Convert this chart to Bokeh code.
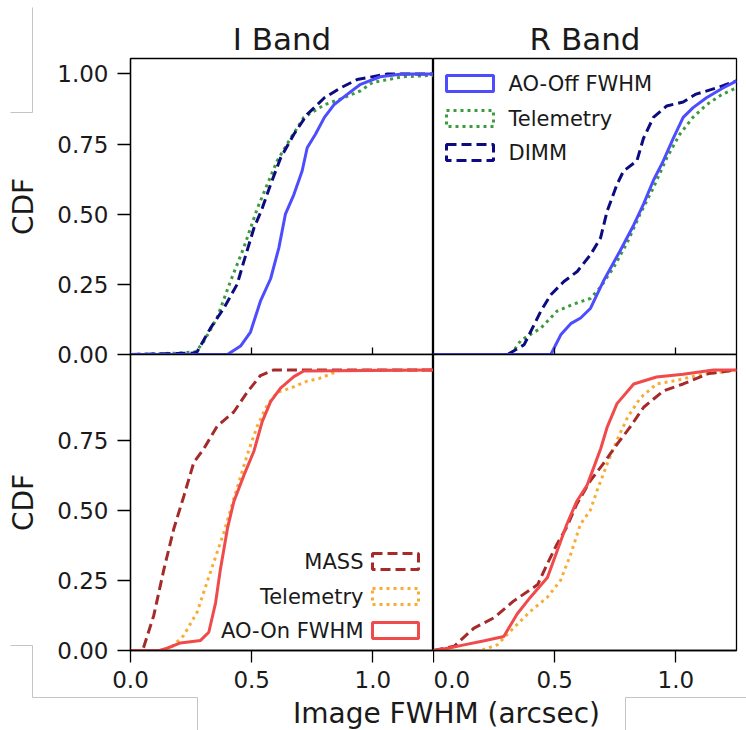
from bokeh.plotting import figure
from bokeh.layouts import column, row
from bokeh.models import Range1d, FixedTicker, NumeralTickFormatter, Label
from bokeh.embed import file_html
from bokeh.resources import INLINE

# ---------------- data ----------------
x_ticks_bottom = [0.0, 0.5, 1.0]
y_ticks_top = [0.0, 0.25, 0.5, 0.75, 1.0]
y_ticks_bottom = [0.0, 0.25, 0.5, 0.75]

# I band, AO-off panel
i_aooff_x = [0.00, 0.40, 0.454, 0.495, 0.536, 0.578, 0.612, 0.639, 0.674, 0.708, 0.729, 0.763, 0.80, 0.839, 0.894, 0.949, 1.03, 1.12, 1.25]
i_aooff_y = [0.00, 0.00, 0.03, 0.08, 0.19, 0.27, 0.38, 0.50, 0.57, 0.654, 0.737, 0.785, 0.845, 0.89, 0.927, 0.963, 0.99, 1.00, 1.00]
i_tel_off_x = [0.00, 0.19, 0.27, 0.302, 0.357, 0.412, 0.467, 0.523, 0.564, 0.605, 0.66, 0.715, 0.80, 0.88, 0.949, 1.00, 1.125, 1.25]
i_tel_off_y = [0.00, 0.005, 0.01, 0.046, 0.13, 0.26, 0.38, 0.52, 0.606, 0.69, 0.77, 0.845, 0.89, 0.915, 0.94, 0.97, 0.99, 0.995]
i_dimm_x = [0.00, 0.15, 0.26, 0.275, 0.33, 0.385, 0.44, 0.467, 0.509, 0.543, 0.578, 0.619, 0.674, 0.729, 0.80, 0.866, 0.935, 1.06, 1.25]
i_dimm_y = [0.00, 0.003, 0.005, 0.01, 0.094, 0.165, 0.25, 0.33, 0.45, 0.52, 0.606, 0.70, 0.785, 0.856, 0.915, 0.95, 0.98, 1.00, 1.00]

# R band, AO-off panel
r_aooff_x = [0.00, 0.484, 0.525, 0.566, 0.607, 0.648, 0.70, 0.77, 0.825, 0.866, 0.907, 0.948, 0.989, 1.03, 1.071, 1.126, 1.194, 1.25]
r_aooff_y = [0.00, 0.00, 0.07, 0.11, 0.13, 0.165, 0.26, 0.37, 0.46, 0.535, 0.62, 0.69, 0.77, 0.845, 0.88, 0.915, 0.95, 0.975]
r_tel_off_x = [0.00, 0.32, 0.36, 0.443, 0.51, 0.579, 0.648, 0.689, 0.743, 0.80, 0.852, 0.907, 0.962, 1.016, 1.07, 1.126, 1.19, 1.25]
r_tel_off_y = [0.00, 0.00, 0.05, 0.094, 0.155, 0.18, 0.20, 0.24, 0.31, 0.40, 0.50, 0.594, 0.70, 0.785, 0.845, 0.89, 0.927, 0.95]
r_dimm_x = [0.00, 0.306, 0.374, 0.443, 0.484, 0.538, 0.593, 0.648, 0.689, 0.716, 0.757, 0.784, 0.839, 0.866, 0.907, 0.962, 1.03, 1.08, 1.167, 1.25]
r_dimm_y = [0.00, 0.00, 0.035, 0.155, 0.213, 0.26, 0.296, 0.356, 0.415, 0.51, 0.606, 0.654, 0.69, 0.77, 0.845, 0.886, 0.90, 0.927, 0.95, 0.975]

# I band, AO-on panel
i_aoon_x = [0.00, 0.12, 0.151, 0.206, 0.289, 0.323, 0.351, 0.371, 0.40, 0.426, 0.468, 0.509, 0.543, 0.578, 0.619, 0.674, 0.715, 1.25]
i_aoon_y = [0.00, 0.00, 0.008, 0.027, 0.036, 0.065, 0.17, 0.29, 0.435, 0.53, 0.625, 0.71, 0.815, 0.887, 0.935, 0.976, 0.996, 1.00]
i_tel_on_x = [0.00, 0.12, 0.165, 0.22, 0.275, 0.33, 0.385, 0.426, 0.481, 0.523, 0.564, 0.605, 0.66, 0.729, 0.78, 0.862, 1.25]
i_tel_on_y = [0.00, 0.00, 0.008, 0.054, 0.137, 0.28, 0.42, 0.54, 0.696, 0.80, 0.875, 0.92, 0.935, 0.96, 0.97, 0.998, 1.00]
i_mass_x = [0.00, 0.05, 0.096, 0.138, 0.179, 0.22, 0.261, 0.303, 0.358, 0.426, 0.481, 0.536, 0.591, 1.25]
i_mass_y = [0.00, 0.00, 0.125, 0.29, 0.435, 0.55, 0.67, 0.72, 0.80, 0.85, 0.92, 0.98, 1.00, 1.00]

# R band, AO-on panel
r_aoon_x = [0.00, 0.07, 0.126, 0.21, 0.29, 0.345, 0.40, 0.47, 0.51, 0.55, 0.59, 0.634, 0.66, 0.69, 0.716, 0.757, 0.826, 0.92, 1.03, 1.155, 1.25]
r_aoon_y = [0.00, 0.01, 0.02, 0.035, 0.05, 0.13, 0.19, 0.26, 0.355, 0.45, 0.53, 0.59, 0.65, 0.72, 0.795, 0.88, 0.95, 0.975, 0.985, 1.00, 1.00]
r_tel_on_x = [0.00, 0.195, 0.263, 0.33, 0.40, 0.47, 0.524, 0.565, 0.606, 0.647, 0.675, 0.716, 0.757, 0.80, 0.853, 0.92, 1.00, 1.086, 1.25]
r_tel_on_y = [0.00, 0.00, 0.02, 0.08, 0.14, 0.19, 0.25, 0.34, 0.45, 0.50, 0.57, 0.664, 0.75, 0.83, 0.90, 0.95, 0.962, 0.98, 1.00]
r_mass_x = [0.00, 0.085, 0.167, 0.25, 0.33, 0.43, 0.47, 0.51, 0.55, 0.59, 0.647, 0.70, 0.757, 0.81, 0.867, 0.95, 1.03, 1.13, 1.25]
r_mass_y = [0.00, 0.015, 0.08, 0.117, 0.176, 0.235, 0.31, 0.38, 0.44, 0.52, 0.605, 0.665, 0.735, 0.795, 0.867, 0.926, 0.95, 0.986, 1.00]

# ---------------- styling ----------------
FONT = "DejaVu Sans"
TXT = "#1a1a1a"
X_MAX = 1.25
Y_MAX = 1.055
FRAME_W = 303
FRAME_H = 296
OVERLAP = 15          # top panels keep a small bottom border so "0.00" is not cut
LW = 3

STY = {
    "aooff": dict(color="#4d4dff", dash="solid", label="AO-Off FWHM"),
    "tel_off": dict(color="#3d9a3d", dash="3 4", label="Telemetry"),
    "dimm": dict(color="#0c0c80", dash="10 5", label="DIMM"),
    "aoon": dict(color="#f04a4a", dash="solid", label="AO-On FWHM"),
    "tel_on": dict(color="#f7ad35", dash="3 4", label="Telemetry"),
    "mass": dict(color="#a52a2a", dash="10 5", label="MASS"),
}


def make_fig(title, left_axis, bottom_labels, border_left, border_right, border_top, border_bottom):
    p = figure(frame_width=FRAME_W, frame_height=FRAME_H,
               x_range=Range1d(0, X_MAX), y_range=Range1d(0, Y_MAX),
               output_backend="svg", toolbar_location=None,
               title=title,
               y_axis_location="left" if left_axis else None,
               min_border_left=border_left, min_border_right=border_right,
               min_border_top=border_top, min_border_bottom=border_bottom)
    p.xgrid.visible = False
    p.ygrid.visible = False
    p.outline_line_color = "black"
    p.outline_line_width = 1.3
    p.background_fill_color = "white"
    if title:
        p.border_fill_color = "white"
        p.title.text_font = FONT
        p.title.text_font_size = "31px"
        p.title.text_font_style = "normal"
        p.title.text_color = TXT
        p.title.align = "center"
        p.title.standoff = 4
    else:
        p.border_fill_alpha = 0
    xa = p.xaxis[0]
    xa.axis_line_color = "black"
    xa.axis_line_width = 1.3
    xa.major_tick_line_color = "black"
    xa.major_tick_line_width = 1.3
    xa.minor_tick_line_color = None
    if bottom_labels:
        xa.ticker = FixedTicker(ticks=x_ticks_bottom)
        xa.formatter = NumeralTickFormatter(format="0.0")
        xa.major_tick_out = 12
        xa.major_tick_in = 0
        xa.major_label_standoff = 8
        xa.major_label_text_font = FONT
        xa.major_label_text_font_size = "23px"
        xa.major_label_text_color = TXT
    else:
        xa.ticker = FixedTicker(ticks=[0.5, 1.0])
        xa.major_tick_out = 0
        xa.major_tick_in = 7
        xa.major_label_standoff = 0
        xa.major_label_text_font_size = "0px"
        xa.major_label_overrides = {0.5: "", 1.0: ""}
    if left_axis:
        ya = p.yaxis[0]
        ya.ticker = FixedTicker(ticks=y_ticks_top if title else y_ticks_bottom)
        ya.formatter = NumeralTickFormatter(format="0.00")
        ya.axis_line_color = "black"
        ya.axis_line_width = 1.3
        ya.major_tick_line_color = "black"
        ya.major_tick_line_width = 1.3
        ya.minor_tick_line_color = None
        ya.major_tick_out = 13
        ya.major_tick_in = 0
        ya.major_label_standoff = 9
        ya.major_label_text_font = FONT
        ya.major_label_text_font_size = "23px"
        ya.major_label_text_color = TXT
        ya.axis_label = "CDF"
        ya.axis_label_text_font = FONT
        ya.axis_label_text_font_size = "28px"
        ya.axis_label_text_font_style = "normal"
        ya.axis_label_text_color = TXT
        ya.axis_label_standoff = 14
    return p


def add_curve(p, xs, ys, key):
    s = STY[key]
    p.line(xs, ys, line_color=s["color"], line_width=LW, line_dash=s["dash"])


def fx(px):
    return px / FRAME_W * X_MAX


def fy(py):
    return Y_MAX - py / FRAME_H * Y_MAX


def legend_entry(p, key, row_center, box_left, box_w, text_x, align):
    s = STY[key]
    h = 8
    p.quad(left=[fx(box_left)], right=[fx(box_left + box_w)],
           top=[fy(row_center - h)], bottom=[fy(row_center + h)],
           fill_alpha=0, line_color=s["color"], line_width=LW, line_dash=s["dash"])
    p.add_layout(Label(x=fx(text_x), y=fy(row_center), text=s["label"],
                       text_font=FONT, text_font_size="21px", text_color=TXT,
                       text_baseline="middle", text_align=align))


# ---------------- panels ----------------
tl = make_fig("I Band", True, False, 130, 0, 58, OVERLAP)
tr = make_fig("R Band", False, False, 0, 10, 58, OVERLAP)
bl = make_fig(None, True, True, 130, 0, 0, 46)
br = make_fig(None, False, True, 0, 10, 0, 46)

add_curve(tl, i_tel_off_x, i_tel_off_y, "tel_off")
add_curve(tl, i_dimm_x, i_dimm_y, "dimm")
add_curve(tl, i_aooff_x, i_aooff_y, "aooff")

add_curve(tr, r_tel_off_x, r_tel_off_y, "tel_off")
add_curve(tr, r_dimm_x, r_dimm_y, "dimm")
add_curve(tr, r_aooff_x, r_aooff_y, "aooff")

add_curve(bl, i_tel_on_x, i_tel_on_y, "tel_on")
add_curve(bl, i_mass_x, i_mass_y, "mass")
add_curve(bl, i_aoon_x, i_aoon_y, "aoon")

add_curve(br, r_tel_on_x, r_tel_on_y, "tel_on")
add_curve(br, r_mass_x, r_mass_y, "mass")
add_curve(br, r_aoon_x, r_aoon_y, "aoon")

# legends (top-right: patch first; bottom-left: label first)
for key, rc in (("aooff", 25), ("tel_off", 60), ("dimm", 94)):
    legend_entry(tr, key, rc, 13, 47, 75, "left")
for key, rc in (("mass", 207), ("tel_on", 242), ("aoon", 276)):
    legend_entry(bl, key, rc, 242, 46, 233, "right")

# bottom strip carrying the shared x-axis label
STRIP_H = 34
strip = figure(width=746, height=STRIP_H, x_range=Range1d(0, 746), y_range=Range1d(0, STRIP_H),
               output_backend="svg", toolbar_location=None,
               x_axis_location=None, y_axis_location=None,
               min_border_left=0, min_border_right=0, min_border_top=0, min_border_bottom=0)
strip.xgrid.visible = False
strip.ygrid.visible = False
strip.outline_line_color = None
strip.add_layout(Label(x=446, y=STRIP_H - 17, text="Image FWHM (arcsec)",
                       text_font=FONT, text_font_size="28px", text_color=TXT,
                       text_baseline="middle", text_align="center"))

# transparent overlay for the light-grey frame fragments seen around the figure
PAGE_W, PAGE_H = 746, 730
frag_xs = [[10, 32, 32], [10, 32, 32, 197, 197], [625, 625, 746]]
frag_ys = [[112, 112, 7], [645, 645, 697, 697, 730], [730, 697, 697]]
overlay = figure(width=PAGE_W, height=PAGE_H, x_range=Range1d(0, PAGE_W), y_range=Range1d(PAGE_H, 0),
                 output_backend="svg", toolbar_location=None,
                 x_axis_location=None, y_axis_location=None,
                 min_border_left=0, min_border_right=0, min_border_top=0, min_border_bottom=0,
                 margin=(-PAGE_H, 0, 0, 0))
overlay.xgrid.visible = False
overlay.ygrid.visible = False
overlay.outline_line_color = None
overlay.background_fill_alpha = 0
overlay.border_fill_alpha = 0
overlay.multi_line(xs=frag_xs, ys=frag_ys, line_color="#c4c4c4", line_width=1)

layout = column(row(tl, tr), row(bl, br, margin=(-OVERLAP, 0, 0, 0)), strip, overlay)

open("out.html", "w").write(file_html(layout, INLINE))
